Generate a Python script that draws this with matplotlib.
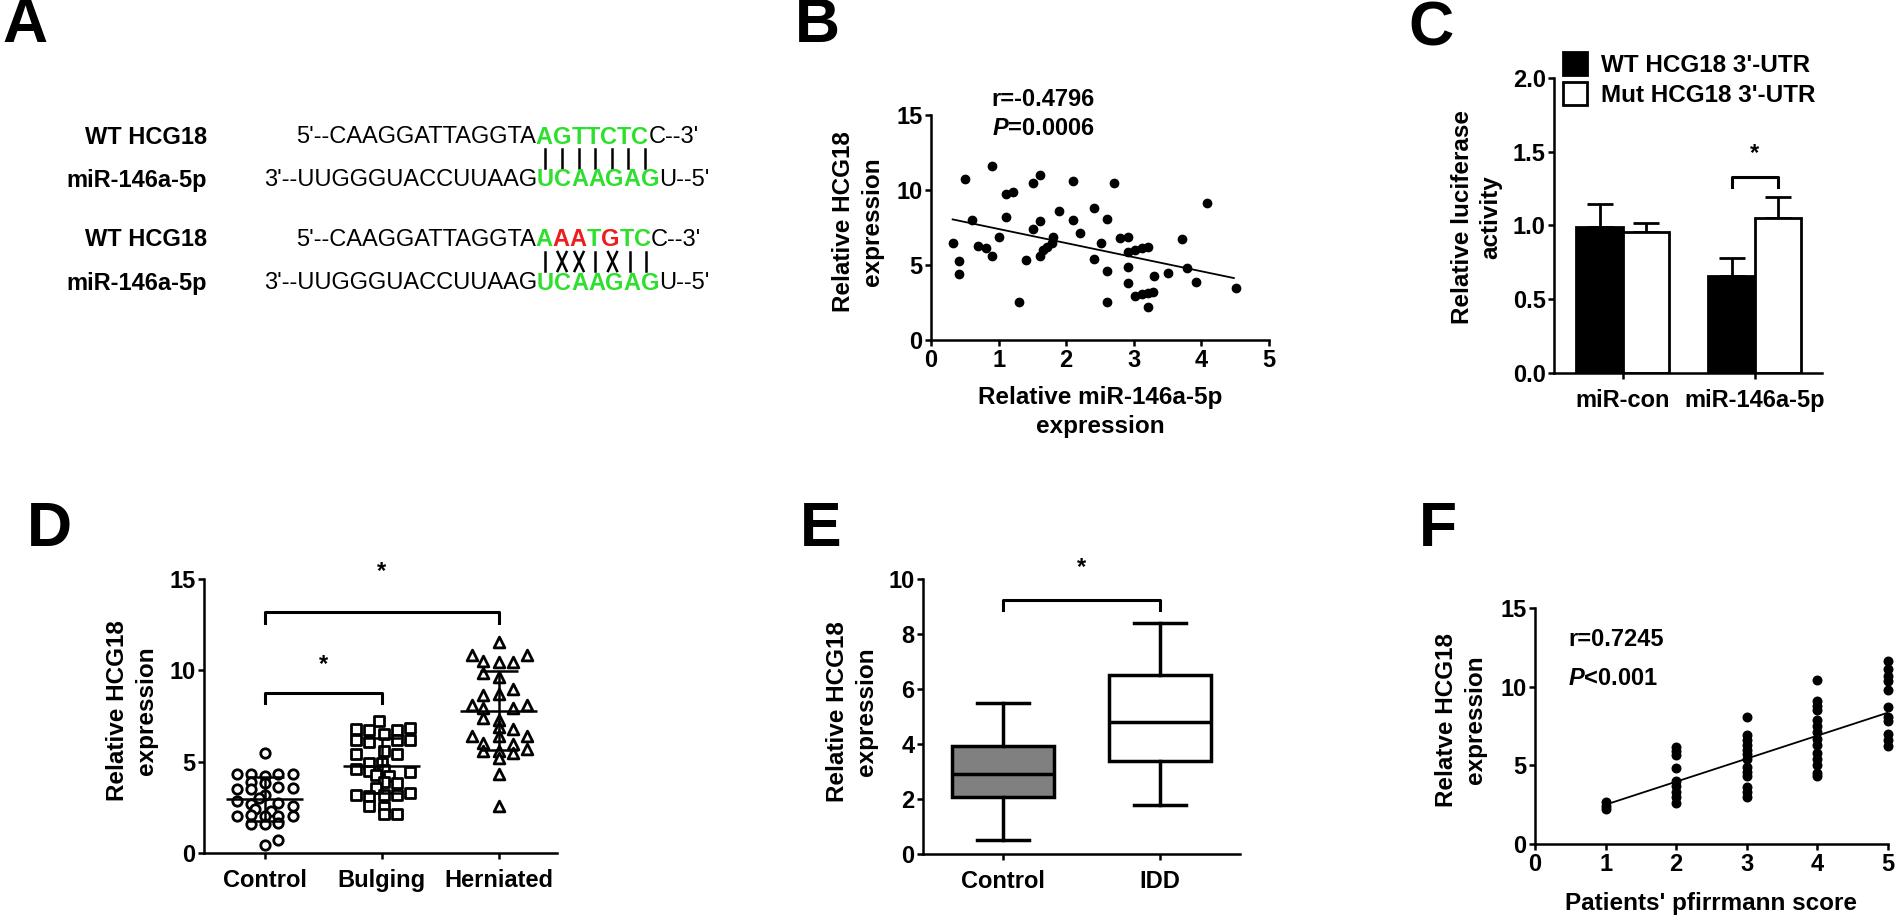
import matplotlib
matplotlib.use("Agg")
import matplotlib.pyplot as plt
from matplotlib.lines import Line2D
from matplotlib.patches import Patch
from matplotlib.font_manager import FontProperties

plt.rcParams.update({
    "font.family": ["Liberation Sans", "DejaVu Sans"],
    "font.weight": "bold",
    "mathtext.fontset": "custom",
    "mathtext.it": "Liberation Sans:bold:italic",
    "mathtext.rm": "Liberation Sans:bold",
    "axes.linewidth": 1.8,
    "xtick.major.width": 1.8,
    "ytick.major.width": 1.8,
    "xtick.major.size": 4.5,
    "ytick.major.size": 4.5,
    "xtick.major.pad": 2,
    "ytick.major.pad": 1.5,
    "xtick.labelsize": 17,
    "ytick.labelsize": 17,
})

GREEN = "#2ee02e"
RED = "#ee1c1c"
W, H = 1900, 921

# ---- panel A: sequences ----
TOP_PRE = "5'--CAAGGATTAGGTA"
TOP_SITE_WT = "AGTTCTC"
TOP_SITE_WT_COL = "GGGGGGG"
TOP_SITE_MUT = "AAATGTC"
TOP_SITE_MUT_COL = "GRRGRGG"
TOP_POST = "C--3'"
MIR_PRE = "3'--UUGGGUACCUUAAG"
MIR_SITE = "UCAAGAG"
MIR_POST = "U--5'"
PAIRS_WT = "|||||||"
PAIRS_MUT = "|XX|X||"

# ---- panel B: HCG18 vs miR-146a-5p ----
B_X = [0.32, 0.42, 0.42, 0.51, 0.61, 0.70, 0.81, 0.90, 0.90, 1.01, 1.11, 1.11, 1.22, 1.30,
       1.40, 1.51, 1.51, 1.61, 1.61, 1.61, 1.66, 1.72, 1.79, 1.81, 1.90, 2.10, 2.10, 2.21,
       2.41, 2.41, 2.51, 2.60, 2.60, 2.60, 2.71, 2.80, 2.92, 2.92, 2.92, 2.92, 3.02, 3.12,
       3.21, 3.02, 3.12, 3.21, 3.29, 3.21, 3.30, 3.51, 3.72, 3.79, 3.92, 4.09, 4.51]
B_Y = [6.49, 5.29, 4.38, 10.75, 8.0, 6.27, 6.11, 5.6, 11.6, 6.84, 8.22, 9.71, 9.84, 2.56,
       5.33, 10.44, 7.38, 11.0, 7.93, 5.6, 6.0, 6.22, 6.49, 6.84, 8.6, 10.6, 8.0, 7.16,
       8.82, 5.38, 6.49, 8.04, 4.6, 2.56, 10.49, 6.78, 6.84, 5.89, 4.89, 3.82, 6.0, 6.11,
       6.18, 2.93, 3.07, 3.16, 3.22, 2.22, 4.27, 4.44, 6.71, 4.78, 3.84, 9.11, 3.49]
B_FIT_X = [0.32, 4.48]
B_FIT_Y = [8.04, 4.13]

# ---- panel C: luciferase ----
C_GROUPS = ["miR-con", "miR-146a-5p"]
C_SERIES = ["WT HCG18 3'-UTR", "Mut HCG18 3'-UTR"]
C_WT = [0.99, 0.66]
C_WT_ERR = [0.155, 0.12]
C_MUT = [0.955, 1.05]
C_MUT_ERR = [0.065, 0.14]

# ---- panel D: groups ----
D_GROUPS = ["Control", "Bulging", "Herniated"]
D_CONTROL = [5.5, 4.35, 4.3, 4.2, 4.3, 4.35, 3.9, 3.85, 3.5, 3.5, 3.6, 3.55, 3.2, 3.0,
             2.85, 2.7, 2.75, 2.6, 2.4, 2.3, 2.0, 2.1, 2.05, 2.0, 2.0, 1.6, 1.6, 1.65, 0.7, 0.45]
D_CONTROL_JIT = [0, -0.24, -0.12, 0, 0.11, 0.24, -0.12, 0.0, -0.24, -0.12, 0.11, 0.24, 0, -0.05,
                 -0.24, -0.12, 0.11, 0.24, -0.08, 0.05, -0.24, -0.12, 0, 0.11, 0.24, -0.12, 0, 0.11, 0.11, 0]
D_BULGING = [7.25, 6.8, 6.75, 6.75, 6.85, 6.5, 6.2, 6.1, 6.2, 6.2, 5.4, 5.4, 5.6, 4.95, 4.9,
             4.6, 4.5, 4.55, 4.45, 4.2, 4.25, 3.9, 3.85, 3.55, 3.2, 3.1, 3.2, 3.2, 3.3, 2.55, 2.5,
             2.15, 2.15]
D_BULGING_JIT = [-0.02, -0.22, -0.11, 0.13, 0.24, 0.02, -0.22, -0.11, 0.13, 0.24, -0.22, 0.13, 0.02,
                 -0.11, 0.0, -0.22, -0.11, 0.02, 0.24, 0.06, -0.05, 0.02, 0.13, -0.05, -0.22, -0.11,
                 0.02, 0.13, 0.24, -0.11, 0.02, 0.02, 0.13]
D_HERNIATED = [11.55, 10.85, 10.85, 10.5, 10.45, 10.45, 9.85, 9.65, 9.0, 8.65, 8.7, 8.1, 8.1, 7.95,
               7.95, 7.4, 7.3, 6.9, 6.8, 6.4, 6.4, 6.4, 6.0, 5.95, 5.6, 5.6, 5.7, 5.45, 5.2, 4.35, 2.55]
D_HERNIATED_JIT = [0, -0.23, 0.24, -0.13, 0, 0.12, -0.13, 0, 0.12, -0.13, 0, -0.23, 0.24, -0.13,
                   0.12, -0.13, 0, 0, 0.12, -0.23, 0, 0.24, -0.13, 0.12, -0.13, 0, 0.24, 0.12, 0, 0, 0]
D_MEAN = [2.96, 4.79, 7.8]
D_SD = [1.2, 1.5, 2.16]

# ---- panel E: box plot ----
E_GROUPS = ["Control", "IDD"]
E_LOW = [0.5, 1.77]
E_Q1 = [2.07, 3.39]
E_MED = [2.92, 4.81]
E_Q3 = [3.93, 6.51]
E_HIGH = [5.48, 8.39]

# ---- panel F: pfirrmann score ----
F_SCORES = [1, 2, 3, 4, 5]
F_VALUES = [
    [2.65, 2.4, 2.2],
    [6.15, 5.9, 5.65, 4.8, 4.0, 3.7, 3.3, 3.0, 2.6],
    [8.1, 6.9, 6.6, 6.3, 6.0, 5.7, 5.4, 4.9, 4.6, 4.3, 3.6, 3.3, 3.0],
    [10.45, 9.1, 8.8, 8.5, 7.9, 7.5, 7.1, 6.7, 6.3, 5.8, 5.4, 5.0, 4.5, 4.3],
    [11.6, 11.1, 10.7, 10.35, 9.8, 8.7, 8.1, 7.8, 7.0, 6.6, 6.2],
]
F_FIT_X = [1, 5]
F_FIT_Y = [2.5, 8.35]


def fx(x):
    return x / W


def fy(y):
    return 1 - y / H


def add_axes(left, top, right, bottom):
    ax = fig.add_axes([fx(left), fy(bottom), (right - left) / W, (bottom - top) / H])
    for s in ("top", "right"):
        ax.spines[s].set_visible(False)
    return ax


def label(x, y, text, rot=0, size=17.5, **kw):
    fig.text(fx(x), fy(y), text, rotation=rot, ha="center", va="center",
             size=size, linespacing=1.3, multialignment="center", **kw)


def bracket(ax, x1, x2, y, leg, star_y):
    ax.plot([x1, x1, x2, x2], [y - leg, y, y, y - leg], color="k", lw=2.2, clip_on=False)
    ax.text((x1 + x2) / 2, star_y, "*", ha="center", va="center", size=17, clip_on=False)


fig = plt.figure(figsize=(W / 100, H / 100), dpi=100)
renderer = fig.canvas.get_renderer()

# panel letters
for letter, x, y in [("A", 2, 26), ("B", 795, 26), ("C", 1408, 29),
                     ("D", 27, 529), ("E", 800, 529), ("F", 1419, 529)]:
    fig.text(fx(x), fy(y), letter, size=45, weight="bold", ha="left", va="center")

# ---------------- A ----------------
seq_prop = FontProperties(family=["Liberation Sans"], size=17, weight="normal")
site_prop = FontProperties(family=["Liberation Sans"], size=17, weight="bold")


def text_w(s, prop):
    if not s:
        return 0.0
    return renderer.get_text_width_height_descent(s, prop, ismath=False)[0]


def draw_seq(x, y, pre, site, cols, post):
    fig.text(fx(x), fy(y), pre, fontproperties=seq_prop, ha="left", va="center")
    x += text_w(pre, seq_prop)
    centers = []
    for ch, c in zip(site, cols):
        w = text_w(ch, site_prop)
        fig.text(fx(x), fy(y), ch, fontproperties=site_prop, color=GREEN if c == "G" else RED,
                 ha="left", va="center")
        centers.append(x + w / 2)
        x += w
    fig.text(fx(x), fy(y), post, fontproperties=seq_prop, ha="left", va="center")
    return centers


def draw_pairs(top_c, bot_c, marks, y0, y1):
    for xt, xb, m in zip(top_c, bot_c, marks):
        xc = (xt + xb) / 2
        if m == "|":
            fig.add_artist(Line2D([fx(xc), fx(xc)], [fy(y0), fy(y1)], color="k", lw=1.8,
                                  transform=fig.transFigure))
        else:
            for s in (-1, 1):
                fig.add_artist(Line2D([fx(xc - 4.5 * s), fx(xc + 4.5 * s)], [fy(y0), fy(y1)],
                                      color="k", lw=1.8, transform=fig.transFigure))


for row, (site, cols, marks) in enumerate([(TOP_SITE_WT, TOP_SITE_WT_COL, PAIRS_WT),
                                          (TOP_SITE_MUT, TOP_SITE_MUT_COL, PAIRS_MUT)]):
    yt = 137 + row * 103
    yb = 180 + row * 103
    fig.text(fx(207), fy(yt), "WT HCG18", size=17, ha="right", va="center")
    fig.text(fx(207), fy(yb), "miR-146a-5p", size=17, ha="right", va="center")
    tc = draw_seq(296, yt, TOP_PRE, site, cols, TOP_POST)
    bc = draw_seq(264, yb, MIR_PRE, MIR_SITE, "G" * len(MIR_SITE), MIR_POST)
    draw_pairs(tc, bc, marks, yt + 12, yb - 12)

# ---------------- B ----------------
ax_b = add_axes(931, 115, 1269, 340)
ax_b.scatter(B_X, B_Y, s=36, color="k", zorder=3, clip_on=False)
ax_b.plot(B_FIT_X, B_FIT_Y, color="k", lw=1.3)
ax_b.set_xlim(0, 5)
ax_b.set_ylim(0, 15)
ax_b.set_xticks(range(6))
ax_b.set_yticks([0, 5, 10, 15])
label(1043, 100, "r=-0.4796", size=17)
label(1043, 128, "$P$=0.0006", size=17)
label(858, 222, "Relative HCG18\nexpression", rot=90)
label(1100, 412, "Relative miR-146a-5p\nexpression")

# ---------------- C ----------------
ax_c = add_axes(1554, 78, 1822, 373)
xs = range(len(C_GROUPS))
bw = 0.35
wt_x = [i - bw / 2 for i in xs]
mut_x = [i + bw / 2 for i in xs]
ax_c.errorbar(wt_x, C_WT, yerr=[[0] * 2, C_WT_ERR], fmt="none", ecolor="k", elinewidth=2,
              capsize=9.5, capthick=2, zorder=1)
ax_c.errorbar(mut_x, C_MUT, yerr=[[0] * 2, C_MUT_ERR], fmt="none", ecolor="k", elinewidth=2,
              capsize=9.5, capthick=2, zorder=1)
ax_c.bar(wt_x, C_WT, bw, color="k", edgecolor="k", lw=2, zorder=2)
ax_c.bar(mut_x, C_MUT, bw, color="w", edgecolor="k", lw=2, zorder=2)
ax_c.set_xlim(-0.52, 1.51)
ax_c.set_ylim(0, 2.0)
ax_c.set_xticks(list(xs))
ax_c.set_xticklabels(C_GROUPS)
ax_c.set_yticks([0, 0.5, 1.0, 1.5, 2.0])
ax_c.tick_params(axis="x", pad=7)
bracket(ax_c, 1 - bw / 2, 1 + bw / 2, 1.33, 0.07, 1.49)
ax_c.legend([Patch(fc="k", ec="k", lw=2), Patch(fc="w", ec="k", lw=2)], C_SERIES,
            loc="upper left", bbox_to_anchor=(fx(1563), fy(52)), bbox_transform=fig.transFigure,
            frameon=False, fontsize=17.5, handlelength=1.0, handleheight=1.1,
            handletextpad=0.55, labelspacing=0.2, borderaxespad=0, borderpad=0)
label(1477, 217, "Relative luciferase\nactivity", rot=90)

# ---------------- D ----------------
ax_d = add_axes(204, 579, 557, 853)
for i, (vals, jit, mk) in enumerate([(D_CONTROL, D_CONTROL_JIT, "o"),
                                     (D_BULGING, D_BULGING_JIT, "s"),
                                     (D_HERNIATED, D_HERNIATED_JIT, "^")]):
    pos = i + 1
    ax_d.scatter([pos + j for j in jit], vals, marker=mk, s=46 if mk != "^" else 60,
                 facecolor="w", edgecolor="k", linewidth=2, zorder=3)
    ax_d.hlines(D_MEAN[i], pos - 0.33, pos + 0.33, color="k", lw=1.8, zorder=4)
    ax_d.errorbar(pos, D_MEAN[i], yerr=D_SD[i], fmt="none", ecolor="k", elinewidth=1.8,
                  capsize=14, capthick=1.8, zorder=4)
ax_d.set_xlim(0.48, 3.5)
ax_d.set_ylim(0, 15)
ax_d.set_yticks([0, 5, 10, 15])
ax_d.set_xticks([1, 2, 3])
ax_d.set_xticklabels(D_GROUPS)
ax_d.tick_params(axis="x", pad=7)
bracket(ax_d, 1, 2, 8.76, 0.55, 10.3)
bracket(ax_d, 1, 3, 13.2, 0.6, 15.4)
label(132, 711, "Relative HCG18\nexpression", rot=90)

# ---------------- E ----------------
ax_e = add_axes(923, 579, 1240, 854)
stats = [dict(whislo=lo, q1=q1, med=md, q3=q3, whishi=hi, fliers=[])
         for lo, q1, md, q3, hi in zip(E_LOW, E_Q1, E_MED, E_Q3, E_HIGH)]
bp = ax_e.bxp(stats, positions=[1, 2], widths=0.655, capwidths=0.33, patch_artist=True,
              boxprops=dict(lw=2.5, edgecolor="k"), medianprops=dict(color="k", lw=2.5),
              whiskerprops=dict(color="k", lw=2.5), capprops=dict(color="k", lw=2.5))
for patch, fc in zip(bp["boxes"], ["#808080", "w"]):
    patch.set_facecolor(fc)
ax_e.set_xlim(0.49, 2.51)
ax_e.set_ylim(0, 10)
ax_e.set_yticks([0, 2, 4, 6, 8, 10])
ax_e.set_xticks([1, 2])
ax_e.set_xticklabels(E_GROUPS)
ax_e.tick_params(axis="x", pad=7)
bracket(ax_e, 1, 2, 9.24, 0.37, 10.4)
label(852, 712, "Relative HCG18\nexpression", rot=90)

# ---------------- F ----------------
ax_f = add_axes(1535, 608, 1888, 844)
for sc, vals in zip(F_SCORES, F_VALUES):
    ax_f.scatter([sc] * len(vals), vals, s=38, color="k", zorder=3, clip_on=False)
ax_f.plot(F_FIT_X, F_FIT_Y, color="k", lw=1.3)
ax_f.set_xlim(0, 5)
ax_f.set_ylim(0, 15)
ax_f.set_xticks(range(6))
ax_f.set_yticks([0, 5, 10, 15])
fig.text(fx(1568), fy(640), "r=0.7245", size=17, ha="left", va="center")
fig.text(fx(1568), fy(678), "$P$<0.001", size=17, ha="left", va="center")
label(1461, 720, "Relatve HCG18\nexpression", rot=90)
label(1711, 903, "Patients' pfirrmann score")

fig.savefig("out.png", dpi=100)
